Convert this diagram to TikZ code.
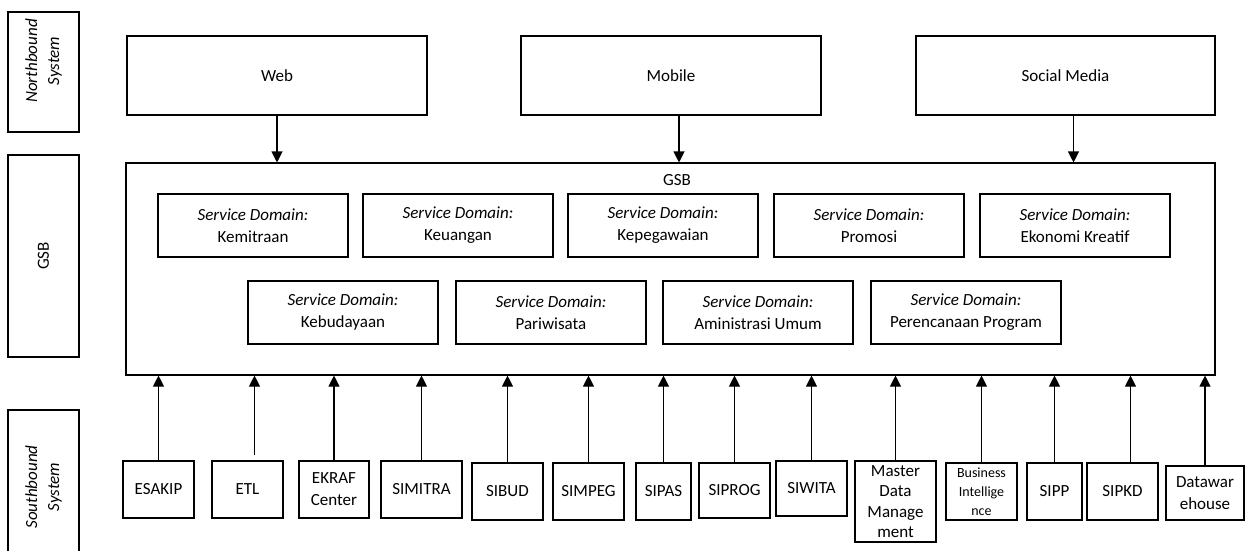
\documentclass[tikz,border=0pt]{standalone}
\usepackage{fontspec}
\setmainfont{Carlito}
\usetikzlibrary{arrows.meta}

\newcommand{\txtsize}{\fontsize{17}{22}\selectfont}

\tikzset{
	box/.style={draw, line width=1.1pt, inner sep=1pt, align=center, font=\txtsize},
	sidebox/.style={box, rotate=90, minimum height=71pt},
	sidetext/.style={rotate=90, align=center, inner sep=0pt, font=\txtsize\itshape},
	topbox/.style={box, minimum width=300pt, minimum height=79pt},
	dombox/.style={box, minimum width=190pt, minimum height=63pt},
	arr/.style={line width=1.1pt, -{Triangle[length=11pt,width=11pt]}}
}

\begin{document}
\begin{tikzpicture}[x=1pt, y=-1pt]

	\useasboundingbox (0,0) rectangle (1245,550);
	\clip (0,0) rectangle (1245,550);

	% layer labels on the left
	\node[sidebox, minimum width=120pt] (lnorth) at (43.5,72) {};
	\node[sidetext] (lnorthtxt) at (43.5,61) {Northbound\\System};
	\node[sidebox, minimum width=202pt] (lgsb) at (43.5,256) {GSB};
	\node[sidebox, minimum width=146pt] (lsouth) at (43.5,483) {};
	\node[sidetext] (lsouthtxt) at (43.5,487) {Southbound\\System};

	% northbound
	\node[topbox] (web) at (277,75.5) {Web};
	\node[topbox] (mobile) at (671,75.5) {Mobile};
	\node[topbox, minimum width=299pt] (social) at (1065.5,75.5) {Social Media};

	% bus
	\node[box, minimum width=1089pt, minimum height=212pt] (gsb) at (670.5,269) {};
	\node[font=\txtsize, inner sep=0pt] (gsbtitle) at (677,180) {GSB};

	\foreach \n/\x/\t in {kemitraan/253/Kemitraan, keuangan/458/Keuangan, kepegawaian/663/Kepegawaian, promosi/869/Promosi, ekonomi/1075/Ekonomi Kreatif}
		\node[dombox] (\n) at (\x,225.5) {\textit{Service Domain:}\\\t};
	\foreach \n/\x/\t in {kebudayaan/343/Kebudayaan, pariwisata/551/Pariwisata, umum/758/Aministrasi Umum, program/966/Perencanaan Program}
		\node[dombox] (\n) at (\x,312.5) {\textit{Service Domain:}\\\t};

	\draw[arr] (web.south) -- (web.south |- gsb.north);
	\draw[arr] ([xshift=8pt]mobile.south) -- ([xshift=8pt]mobile.south |- gsb.north);
	\draw[arr] ([xshift=8pt]social.south) -- ([xshift=8pt]social.south |- gsb.north);

	% southbound
	\foreach \n/\x/\y/\w/\h/\t in {
		esakip/158.5/489.5/71/57/{ESAKIP},
		etl/247.5/489.5/71/57/{ETL},
		ekraf/334/489.5/70/57/{EKRAF\\Center},
		simitra/421.5/489.5/81/57/{SIMITRA},
		sibud/507.5/491.5/71/57/{SIBUD},
		simpeg/588.5/491.5/71/57/{SIMPEG},
		sipas/663.5/491.5/55/57/{SIPAS},
		siprog/734.5/490.5/71/55/{SIPROG},
		siwita/811.5/488.5/71/55/{SIWITA},
		sipp/1054.5/491.5/55/57/{SIPP},
		sipkd/1122.5/491.5/71/57/{SIPKD},
		dwh/1205/493/78/54/{Datawar\\ehouse}}
		\node[box, minimum width=\w pt, minimum height=\h pt] (\n) at (\x,\y) {\t};
	\node[box, minimum width=81pt, minimum height=81pt, inner sep=0pt, font=\fontsize{17}{20.5}\selectfont] (mdm) at (895.5,501.5) {Master\\Data\\Manage\\ment};
	\node[box, minimum width=71pt, minimum height=57pt, font=\fontsize{14}{19}\selectfont] (bi) at (981.5,491.5) {Business\\Intellige\\nce};

	\foreach \n in {esakip, ekraf, simitra, sibud, simpeg, sipas, siprog, siwita, mdm, bi, sipp, dwh}
		\draw[arr] (\n.north) -- (\n.north |- gsb.south);
	\draw[arr] ([xshift=7pt,yshift=5pt]etl.north) -- ([xshift=7pt]etl.north |- gsb.south);
	\draw[arr] ([xshift=8pt]sipkd.north) -- ([xshift=8pt]sipkd.north |- gsb.south);

\end{tikzpicture}
\end{document}
